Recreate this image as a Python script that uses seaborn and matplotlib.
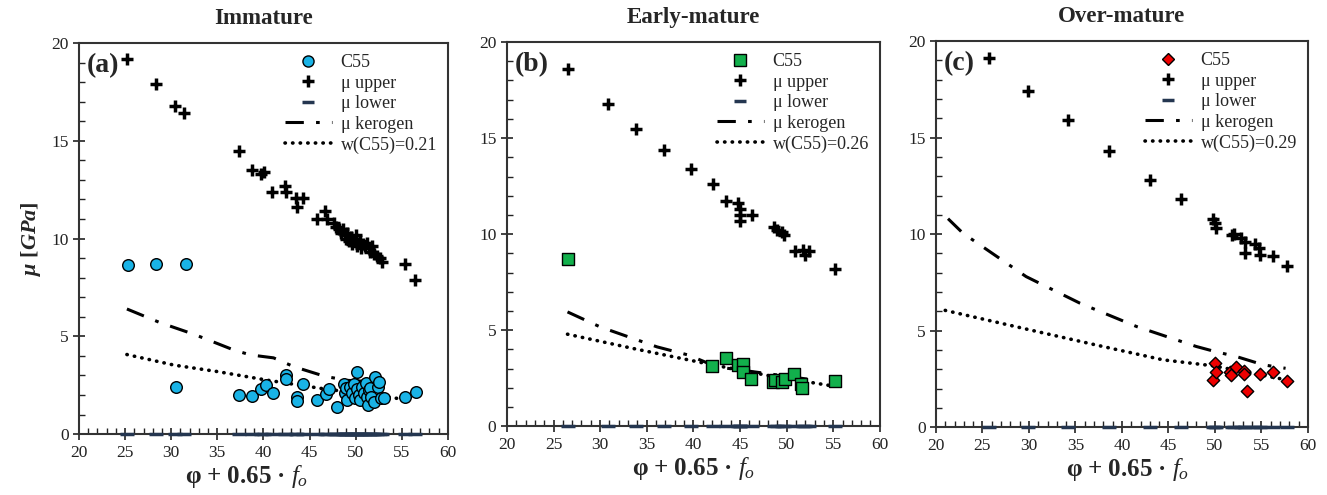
import numpy as np
import pandas as pd
import matplotlib
matplotlib.use("Agg")
import matplotlib.pyplot as plt
import seaborn as sns
from matplotlib.lines import Line2D
from matplotlib.ticker import MultipleLocator

# ---------------- data ----------------
titles = ["Immature", "Early-mature", "Over-mature"]
panel_tags = ["(a)", "(b)", "(c)"]
w_labels = ["w(C55)=0.21", "w(C55)=0.26", "w(C55)=0.29"]

# (a) Immature
a_up_x = [25.2, 28.3, 30.4, 31.4, 37.3, 38.8, 39.7, 40.1, 40.9, 42.3, 42.4, 43.5, 43.6, 44.3,
          45.8, 46.7, 46.9, 47.6, 47.9, 48.2, 48.4, 48.6, 48.8, 49.0, 49.1, 49.3, 49.5, 49.6,
          49.8, 50.0, 50.1, 50.3, 50.5, 50.6, 50.8, 51.0, 51.2, 51.4, 51.6, 51.8, 52.0, 52.3,
          52.6, 52.9, 55.3, 56.4]
a_up_y = [19.2, 17.9, 16.8, 16.4, 14.5, 13.5, 13.3, 13.4, 12.4, 12.7, 12.4, 12.1, 11.6, 12.1,
          11.0, 11.4, 11.0, 10.8, 10.6, 10.5, 10.3, 10.5, 10.2, 10.0, 10.3, 9.9, 10.1, 9.7,
          9.9, 10.2, 9.6, 9.8, 9.9, 9.5, 9.7, 9.6, 9.8, 9.5, 9.3, 9.6, 9.2, 9.1,
          9.0, 8.8, 8.7, 7.9]
a_c55_x = [25.3, 28.3, 31.6, 30.5, 37.4, 38.8, 39.7, 40.3, 41.0, 42.4, 42.5, 43.6, 43.6, 44.3,
           45.8, 46.8, 47.1, 48.0, 48.7, 48.9, 49.0, 49.1, 49.4, 49.6, 49.8, 49.9, 50.1, 50.2,
           50.4, 50.5, 50.7, 50.9, 51.1, 51.2, 51.3, 51.4, 51.6, 51.7, 52.0, 52.1, 52.4, 52.5,
           52.7, 53.1, 55.3, 56.5]
a_c55_y = [8.65, 8.7, 8.7, 2.4, 2.0, 1.95, 2.3, 2.5, 2.1, 3.0, 2.8, 1.9, 1.7, 2.55,
           1.75, 2.05, 2.3, 1.4, 2.54, 2.08, 2.34, 1.74, 2.39, 2.08, 2.54, 1.83, 2.29, 3.19,
           2.0, 1.74, 2.42, 2.08, 2.59, 1.91, 1.48, 2.25, 2.34, 1.91, 1.65, 2.93, 2.42, 2.64,
           1.83, 1.83, 1.91, 2.15]
a_ker_x = [25.2, 28.8, 32.5, 36.8, 38.6, 41.1, 43.3, 46.7, 49.1, 51.0, 53.6]
a_ker_y = [6.4, 5.7, 5.1, 4.3, 4.05, 3.9, 3.45, 2.95, 2.75, 2.7, 2.5]
a_w_x = [25.2, 30.3, 35.0, 40.4, 46.9, 50.5, 55.8]
a_w_y = [4.07, 3.53, 3.2, 2.76, 2.29, 2.1, 1.74]

# (b) Early-mature
b_up_x = [26.6, 30.8, 33.9, 36.9, 39.8, 42.1, 43.5, 44.8, 45.0, 45.0, 45.0, 46.3, 48.6, 49.0,
          49.5, 49.7, 50.9, 51.8, 52.0, 52.4, 55.2]
b_up_y = [18.6, 16.8, 15.5, 14.4, 13.4, 12.6, 11.7, 11.6, 11.3, 11.0, 10.7, 11.0, 10.35, 10.2,
          10.1, 9.95, 9.13, 9.17, 8.9, 9.1, 8.16]
b_c55_x = [26.5, 42.0, 43.5, 44.8, 45.3, 45.3, 46.2, 48.5, 48.8, 49.5, 49.8, 50.8, 51.6, 51.7, 55.2]
b_c55_y = [8.68, 3.12, 3.56, 3.18, 3.23, 2.83, 2.48, 2.31, 2.43, 2.31, 2.48, 2.74, 2.22, 2.0, 2.36]
b_ker_x = [26.5, 30.0, 36.1, 39.5, 42.5, 47.9, 53.0]
b_ker_y = [5.95, 5.17, 4.13, 3.7, 3.09, 2.74, 2.4]
b_w_x = [26.5, 33.6, 41.4, 47.9, 54.5]
b_w_y = [4.79, 4.04, 3.26, 2.65, 2.13]

# (c) Over-mature
c_up_x = [25.7, 29.9, 34.2, 38.6, 43.0, 46.4, 49.8, 50.0, 50.1, 51.8, 52.1, 52.8, 53.2, 53.2,
          54.3, 54.7, 54.9, 56.3, 57.8]
c_up_y = [19.1, 17.4, 15.9, 14.3, 12.8, 11.8, 10.8, 10.6, 10.3, 9.96, 10.0, 9.8, 9.6, 9.0,
          9.5, 9.3, 8.9, 8.85, 8.36]
c_c55_x = [50.0, 49.8, 50.1, 51.6, 51.7, 52.3, 53.1, 53.1, 53.5, 54.9, 56.3, 57.8]
c_c55_y = [3.3, 2.42, 2.85, 2.88, 2.7, 3.14, 2.93, 2.76, 1.9, 2.76, 2.85, 2.41]
c_ker_x = [21.3, 22.9, 29.7, 35.5, 41.6, 48.0, 50.0, 52.3, 55.2, 57.6]
c_ker_y = [10.8, 10.05, 7.8, 6.42, 5.21, 4.18, 3.92, 3.66, 3.23, 3.05]
c_w_x = [21.0, 30.1, 37.2, 44.4, 49.8, 57.7]
c_w_y = [6.05, 5.04, 4.26, 3.49, 3.18, 2.45]

panels = [
    (a_up_x, a_up_y, a_c55_x, a_c55_y, a_ker_x, a_ker_y, a_w_x, a_w_y),
    (b_up_x, b_up_y, b_c55_x, b_c55_y, b_ker_x, b_ker_y, b_w_x, b_w_y),
    (c_up_x, c_up_y, c_c55_x, c_c55_y, c_ker_x, c_ker_y, c_w_x, c_w_y),
]

# ---------------- style ----------------
sns.set_theme(style="ticks")
plt.rcParams["font.family"] = ["Liberation Serif", "DejaVu Serif"]
plt.rcParams["mathtext.fontset"] = "custom"
plt.rcParams["mathtext.rm"] = "Liberation Serif"
plt.rcParams["mathtext.it"] = "Liberation Serif:italic"
plt.rcParams["mathtext.bf"] = "Liberation Serif:bold"
plt.rcParams["mathtext.bfit"] = "Liberation Serif:bold:italic"
plt.rcParams["mathtext.fallback"] = "stix"

c55_styles = [
    dict(marker="o", color="#19b3e6", s=70),
    dict(marker="s", color="#12b04c", s=80),
    dict(marker="D", color="#ee0000", s=40),
]
lower_color = "#243650"

xlabel = "$\\boldsymbol{\\varphi}\\ \\mathbf{+\\ 0.65}\\ \\mathbf{\u00b7}\\ \\boldsymbol{f_o}$"
ylabel = r"$\boldsymbol{\mu}\ \mathbf{[}\boldsymbol{GPa}\mathbf{]}$"

fig = plt.figure(figsize=(13.27, 4.95), dpi=100)
positions = [
    [0.0595, 0.123, 0.278, 0.790],
    [0.382, 0.139, 0.281, 0.776],
    [0.7053, 0.137, 0.2803, 0.780],
]
xlabel_x = [0.455, 0.5, 0.515]

for i, (ux, uy, cx, cy, kx, ky, wx, wy) in enumerate(panels):
    ax = fig.add_axes(positions[i])
    st = c55_styles[i]
    df_up = pd.DataFrame({"x": ux, "y": uy})
    df_low = pd.DataFrame({"x": ux, "y": np.zeros(len(ux))})
    df_c = pd.DataFrame({"x": cx, "y": cy})
    df_k = pd.DataFrame({"x": kx, "y": ky})
    df_w = pd.DataFrame({"x": wx, "y": wy})

    sns.lineplot(data=df_k, x="x", y="y", ax=ax, color="black", lw=2.2,
                 estimator=None, sort=False, legend=False)
    ax.lines[-1].set_dashes([6, 4, 1.2, 4])
    sns.lineplot(data=df_w, x="x", y="y", ax=ax, color="black", lw=2.6,
                 estimator=None, sort=False, legend=False)
    ax.lines[-1].set_dashes([0.1, 2.0])
    ax.lines[-1].set_dash_capstyle("round")

    sns.scatterplot(data=df_low, x="x", y="y", ax=ax, marker="_", color=lower_color,
                    s=90, linewidth=2.5, clip_on=False, zorder=4, legend=False)
    sns.scatterplot(data=df_up, x="x", y="y", ax=ax, marker="+", color="black",
                    s=75, linewidth=2.5, zorder=5, legend=False)
    sns.scatterplot(data=df_c, x="x", y="y", ax=ax, marker=st["marker"], color=st["color"],
                    s=st["s"], edgecolor="black", linewidth=1.0, zorder=6, legend=False)

    ax.set_xlim(20, 60)
    ax.set_ylim(0, 20)
    ax.xaxis.set_major_locator(MultipleLocator(5))
    ax.xaxis.set_minor_locator(MultipleLocator(1))
    ax.yaxis.set_major_locator(MultipleLocator(5))
    ax.yaxis.set_minor_locator(MultipleLocator(1))
    ax.tick_params(which="major", direction="inout", length=8, width=1.2, labelsize=12.5, colors="#222222")
    ax.tick_params(which="minor", direction="in", length=4, width=1.0, colors="#222222")
    for sp in ax.spines.values():
        sp.set_linewidth(1.5)
        sp.set_color("#333333")

    ax.set_title(titles[i], fontsize=16.5, fontweight="bold", pad=14)
    ax.set_xlabel(xlabel, fontsize=18, labelpad=2)
    ax.xaxis.set_label_coords(xlabel_x[i], -0.075)
    if i == 0:
        ax.set_ylabel(ylabel, fontsize=16, labelpad=6)
    else:
        ax.set_ylabel("")
    ax.text(0.02, 0.975, panel_tags[i], transform=ax.transAxes, fontsize=20,
            fontweight="bold", va="top", ha="left")

    handles = [
        Line2D([], [], marker=st["marker"], color="none", markerfacecolor=st["color"],
               markeredgecolor="black", markersize=8 if i < 2 else 6),
        Line2D([], [], marker="+", color="none", markeredgecolor="black", markersize=8, mew=2.5),
        Line2D([], [], marker="_", color="none", markeredgecolor=lower_color, markersize=9, mew=2.5),
        Line2D([], [], color="black", lw=2.2, dashes=[6, 4, 1.2, 4]),
        Line2D([], [], color="black", lw=2.6, dashes=[0.1, 2.0], dash_capstyle="round"),
    ]
    labels = ["C55", "\u03bc upper", "\u03bc lower", "\u03bc kerogen", w_labels[i]]
    ax.legend(handles, labels, loc="upper right", frameon=False, fontsize=13,
              handlelength=2.6, borderaxespad=0.3, borderpad=0.3,
              labelspacing=0.2, handletextpad=0.5)

fig.savefig("out.png", dpi=100)
